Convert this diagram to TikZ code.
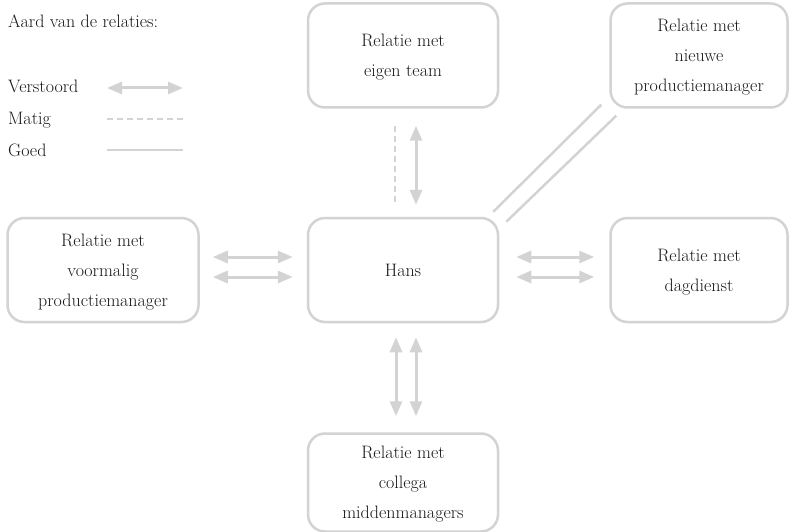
\documentclass[tikz,border=0pt]{standalone}
\usepackage{fontspec}
\usetikzlibrary{positioning,arrows.meta}
\definecolor{relgray}{RGB}{211,211,211}
\definecolor{txtcol}{RGB}{25,22,23}
\tikzset{
>={Triangle[length=15pt,width=12pt]}, % wide triangle tips
my box/.style={draw=relgray,line width=2.5pt,rectangle,rounded corners=17pt,
  minimum width=190pt,minimum height=104pt,align=center,text=txtcol,
  text depth=0pt,font=\fontsize{18}{30}\selectfont},
narrow/.style={minimum width=177pt},
verstoord/.style={<->,draw=relgray,line width=3pt},
matig/.style={draw=relgray,line width=2.5pt,dash pattern=on 6pt off 4pt},
goed/.style={draw=relgray,line width=2.5pt},
legend/.style={anchor=base west,text=txtcol,inner sep=0pt,
  font=\fontsize{18}{30}\selectfont},
}
\begin{document}
\begin{tikzpicture}[x=1pt,y=-1pt]
\useasboundingbox (0,0) rectangle (790,532);

% legend
\node[legend] (titel) at (8,28)  {Aard van de relaties:};
\node[legend] (v)     at (8,93)  {Verstoord};
\node[legend] (m)     at (8,125) {Matig};
\node[legend] (g)     at (8,157) {Goed};
\coordinate (v1) at (107,88);  \coordinate (v2) at (183,88);
\coordinate (m1) at (107,119); \coordinate (m2) at (183,119);
\coordinate (g1) at (107,150); \coordinate (g2) at (183,150);
\draw[verstoord] (v1) -- (v2);
\draw[matig]     (m1) -- (m2);
\draw[goed]      (g1) -- (g2);

% relations
\node[my box]                             (hans)    at (403,270)          {Hans};
\node[my box,minimum width=191pt]         (oud)     [left=107pt of hans]  {Relatie met\\voormalig\\productiemanager};
\node[my box]                             (team)    [above=108pt of hans] {Relatie met\\eigen team};
\node[my box,narrow]                      (dag)     [right=110pt of hans] {Relatie met\\dagdienst};
\node[my box,narrow]                      (nieuw)   [above=108pt of dag]  {Relatie met\\nieuwe\\productiemanager};
\node[my box,minimum height=98pt]         (collega) [below=109pt of hans] {Relatie met\\collega\\middenmanagers};

\draw[verstoord,shorten <=13pt,shorten >=14pt] ([shift={(0,-13)}]oud.east) -- ([shift={(0,-13)}]hans.west);
\draw[verstoord,shorten <=13pt,shorten >=14pt] ([shift={(0,7)}]oud.east)   -- ([shift={(0,7)}]hans.west);
\draw[verstoord,shorten <=17pt,shorten >=15pt] ([shift={(0,-13)}]hans.east) -- ([shift={(0,-13)}]dag.west);
\draw[verstoord,shorten <=17pt,shorten >=15pt] ([shift={(0,7)}]hans.east)   -- ([shift={(0,7)}]dag.west);
\draw[matig,shorten <=17pt,shorten >=12pt]     ([shift={(-8,0)}]team.south) -- ([shift={(-8,0)}]hans.north);
\draw[verstoord,shorten <=17pt,shorten >=12pt] ([shift={(13,0)}]team.south) -- ([shift={(13,0)}]hans.north);
\draw[verstoord,shorten <=14pt,shorten >=16pt] ([shift={(-7,0)}]hans.south) -- ([shift={(-7,0)}]collega.north);
\draw[verstoord,shorten <=14pt,shorten >=16pt] ([shift={(13,0)}]hans.south) -- ([shift={(13,0)}]collega.north);
\draw[goed] ([shift={(-6,-5)}]hans.north east) -- ([shift={(-8,-4)}]nieuw.south west);
\draw[goed] ([shift={(7,5)}]hans.north east)   -- ([shift={(7,7)}]nieuw.south west);
\end{tikzpicture}
\end{document}
